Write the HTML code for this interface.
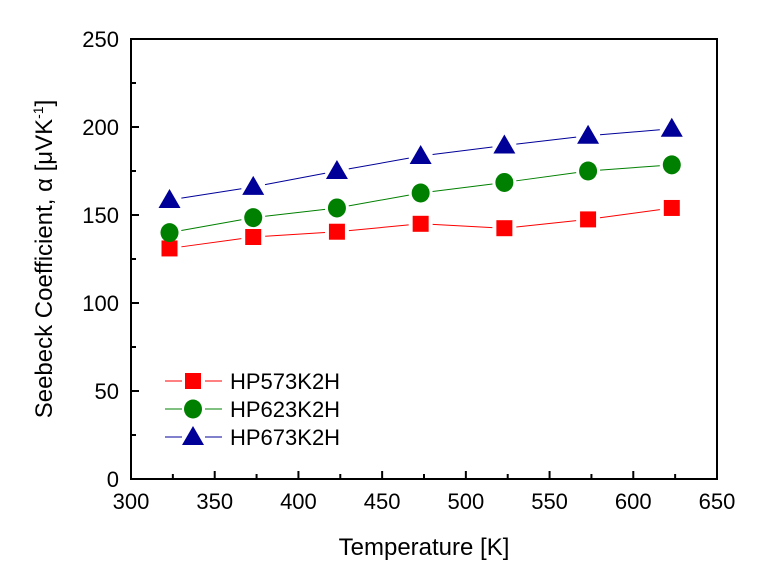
<!DOCTYPE html>
<html><head><meta charset="utf-8"><style>
body{margin:0;background:#fff;}
svg{display:block;font-family:"Liberation Sans",Arial,sans-serif;}
</style></head><body>
<svg id="chart" width="762" height="575"></svg>
<script>
const xTicks=[300,350,400,450,500,550,600,650];
const yTicks=[0,50,100,150,200,250];
const temps=[323,373,423,473,523,573,623];
const s573=[131,137.5,140.5,145,142.5,147.5,154];
const s623=[140,148.5,154,162.5,168.5,175,178.5];
const s673=[158.5,166,175,183.5,189.5,195,199];
const seriesNames=["HP573K2H","HP623K2H","HP673K2H"];

const L=131,R=717,T=39,B=479;
const X=v=>L+(v-300)/(650-300)*(R-L);
const Y=v=>B-(v/250)*(B-T);
const svg=document.getElementById('chart');
const NS='http://www.w3.org/2000/svg';
function mk(tag,attrs,parent){const e=document.createElementNS(NS,tag);for(const k in attrs)e.setAttribute(k,attrs[k]);(parent||svg).appendChild(e);return e;}

const frame=mk('rect',{x:L,y:T,width:R-L,height:B-T,fill:'none',stroke:'#000','stroke-width':2});



xTicks.forEach((v,i)=>{
  const t=mk('line',{x1:X(v),x2:X(v),y1:B,y2:B-8,stroke:'#000','stroke-width':2});
  
  
  if(i<xTicks.length-1){const m=mk('line',{x1:X(v+25),x2:X(v+25),y1:B,y2:B-5,stroke:'#000','stroke-width':2});
  
  }
  const tx=mk('text',{x:X(v),y:B+30,'text-anchor':'middle','font-size':22});
  tx.textContent=v;
  
  
});
yTicks.forEach((v,i)=>{
  const t=mk('line',{x1:L,x2:L+8,y1:Y(v),y2:Y(v),stroke:'#000','stroke-width':2});
  
  
  if(i<yTicks.length-1){const m=mk('line',{x1:L,x2:L+5,y1:Y(v+25),y2:Y(v+25),stroke:'#000','stroke-width':2});
  
  }
  const tx=mk('text',{x:L-12,y:Y(v)+8,'text-anchor':'end','font-size':22});
  tx.textContent=v;
  
  
});

const xt=mk('text',{x:424,y:555,'text-anchor':'middle','font-size':24});
xt.textContent='Temperature [K]';


const yt=mk('text',{x:0,y:0,'text-anchor':'middle','font-size':24,transform:'translate(52,259) rotate(-90)'});
yt.innerHTML='Seebeck Coefficient, α [μVK<tspan dy="-9" font-size="14">-1</tspan><tspan dy="9">]</tspan>';



function marker(kind,cx,cy,color,parent){
  let m;
  if(kind==='sq')m=mk('rect',{x:cx-8,y:cy-8,width:16,height:16,fill:color},parent);
  else if(kind==='ci')m=mk('ellipse',{cx:cx,cy:cy,rx:9,ry:9.5,fill:color},parent);
  else m=mk('polygon',{points:`${cx},${cy-11} ${cx+11},${cy+8} ${cx-11},${cy+8}`,fill:color},parent);
  return m;
}
const series=[[s573,'#ff0000','sq'],[s623,'#008000','ci'],[s673,'#000099','tr']];
series.forEach(([vals,color,kind],si)=>{
  const g=mk('g',{});
  
  
  for(let i=0;i<vals.length-1;i++){
    const x1=X(temps[i]),y1=Y(vals[i]),x2=X(temps[i+1]),y2=Y(vals[i+1]);
    const d=Math.hypot(x2-x1,y2-y1),ux=(x2-x1)/d,uy=(y2-y1)/d,g0=12;
    const ln=mk('line',{x1:x1+ux*g0,y1:y1+uy*g0,x2:x2-ux*g0,y2:y2-uy*g0,stroke:color,'stroke-width':1},g);
    
    
  }
  vals.forEach((v,i)=>{
    const m=marker(kind,X(temps[i]),Y(v),color,g);
    
    
  });
  const ly=381+si*28;
  const lg=mk('g',{});
  
  
  mk('line',{x1:165,x2:182,y1:ly,y2:ly,stroke:color,'stroke-width':1},lg);
  mk('line',{x1:205,x2:222,y1:ly,y2:ly,stroke:color,'stroke-width':1},lg);
  marker(kind,193,ly,color,lg);
  const t=mk('text',{x:230,y:ly+8,'font-size':22},lg);
  t.textContent=seriesNames[si];
});
</script>
</body></html>
